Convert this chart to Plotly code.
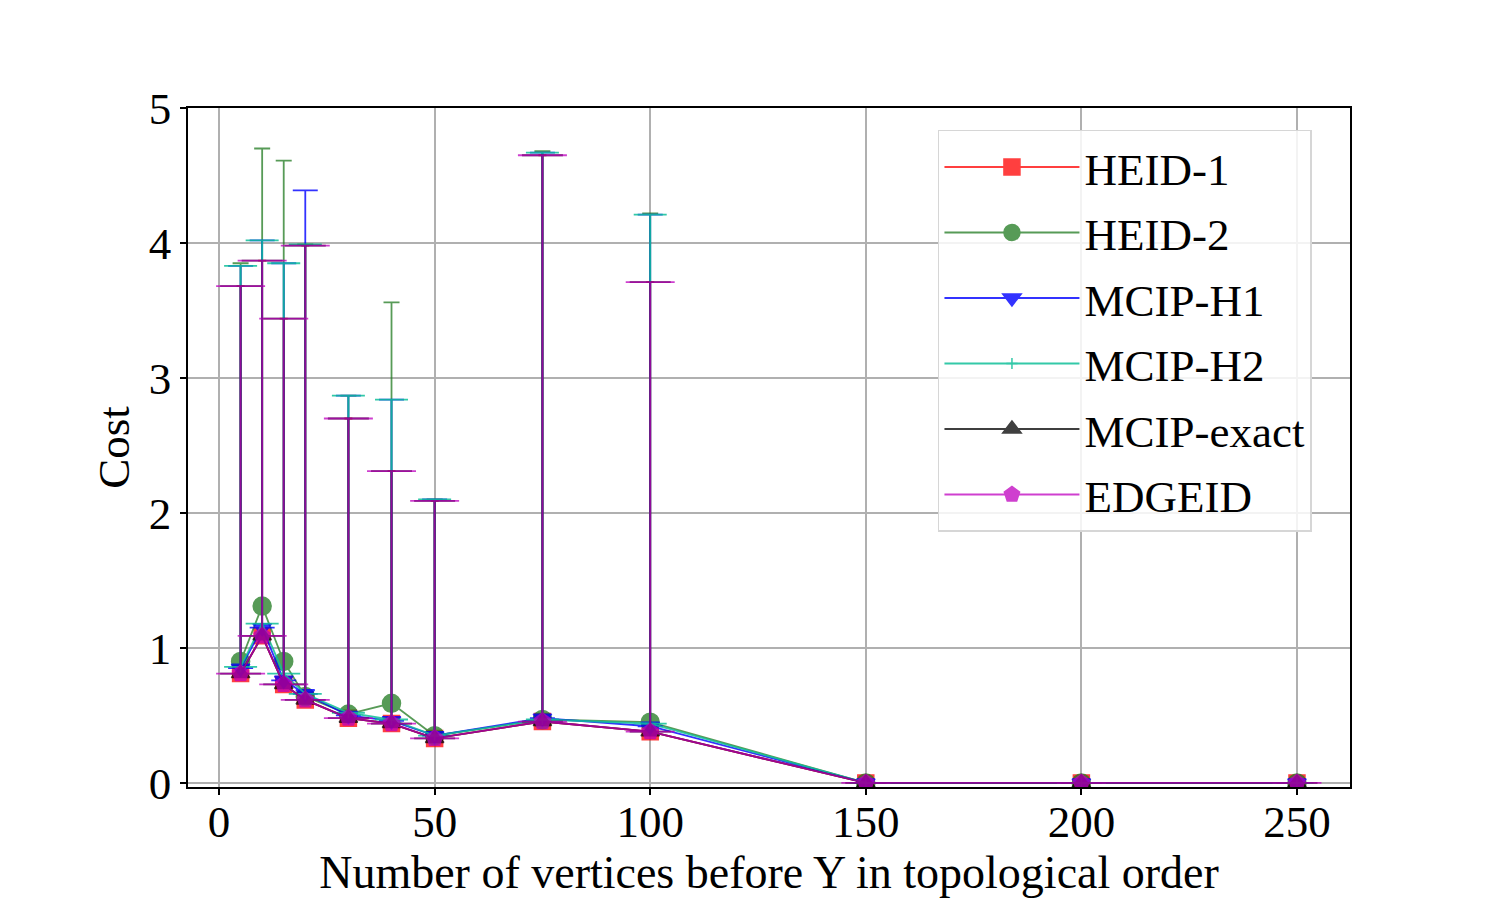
## librerias
import plotly.graph_objects as go

## datos
vertices = [5, 10, 15, 20, 30, 40, 50, 75, 100, 150, 200, 250]

heid1_cost = [0.81, 1.09, 0.73, 0.615, 0.48, 0.44, 0.33, 0.455, 0.38, 0, 0, 0]
heid1_err = [2.87, 2.78, 2.71, 3.365, 2.22, 1.87, 1.76, 4.195, 3.33, 0, 0, 0]

heid2_cost = [0.90, 1.31, 0.90, 0.64, 0.51, 0.59, 0.35, 0.47, 0.45, 0, 0, 0]
heid2_err = [2.95, 3.39, 3.71, 3.35, 2.36, 2.97, 1.75, 4.21, 3.77, 0, 0, 0]

mcip_h1_cost = [0.85, 1.15, 0.76, 0.66, 0.50, 0.46, 0.35, 0.48, 0.42, 0, 0, 0]
mcip_h1_err = [2.98, 2.87, 3.09, 3.73, 2.37, 2.38, 1.75, 4.19, 3.79, 0, 0, 0]

mcip_h2_cost = [0.86, 1.18, 0.81, 0.66, 0.52, 0.47, 0.35, 0.47, 0.44, 0, 0, 0]
mcip_h2_err = [2.97, 2.84, 3.04, 3.33, 2.35, 2.37, 1.75, 4.20, 3.77, 0, 0, 0]

exact_cost = [0.81, 1.09, 0.73, 0.615, 0.48, 0.44, 0.33, 0.455, 0.38, 0, 0, 0]
exact_err = [2.87, 2.78, 2.71, 3.365, 2.22, 1.87, 1.76, 4.195, 3.33, 0, 0, 0]

edgeid_cost = [0.81, 1.09, 0.73, 0.615, 0.48, 0.44, 0.33, 0.455, 0.38, 0, 0, 0]
edgeid_err = [2.87, 2.78, 2.71, 3.365, 2.22, 1.87, 1.76, 4.195, 3.33, 0, 0, 0]

err_abajo = [0, 0, 0, 0, 0, 0, 0, 0, 0, 0, 0, 0]

x_ticks = [0, 50, 100, 150, 200, 250]
y_ticks = [0, 1, 2, 3, 4, 5]

fuente = "Liberation Serif, Times New Roman, serif"

## series: nombre, valores, error, color, simbolo, tamaño, ancho cap, opacidad
series = [
    ("HEID-1", heid1_cost, heid1_err, "#ff0000", "square", 16, 4, 0.75),
    ("HEID-2", heid2_cost, heid2_err, "#1f7a1f", "circle", 18, 8, 0.75),
    ("MCIP-H1", mcip_h1_cost, mcip_h1_err, "#0000ff", "triangle-down", 16, 12.5, 0.8),
    ("MCIP-H2", mcip_h2_cost, mcip_h2_err, "#10c09a", "cross-thin", 8, 16.5, 0.85),
    ("MCIP-exact", exact_cost, exact_err, "#000000", "triangle-up", 16, 20.5, 0.75),
    ("EDGEID", edgeid_cost, edgeid_err, "#bf00bf", "pentagon", 17, 24.5, 0.75),
]

fig = go.Figure()
for nombre, costo, err, col, simb, tam, capw, alpha in series:
    fig.add_trace(go.Scatter(
        x=vertices, y=costo, name=nombre, mode="lines+markers",
        legendgroup=nombre, opacity=alpha,
        line=dict(color=col, width=1.8),
        marker=dict(symbol=simb, size=tam, color=col,
                    line=dict(color=col, width=1.5)),
        error_y=dict(type="data", symmetric=False, array=err, arrayminus=err_abajo,
                     color=col, thickness=1.8, width=capw),
    ))

# el body de la pagina agrega 8px, se descuentan del margen
fig.update_layout(
    width=1500, height=900,
    paper_bgcolor="white", plot_bgcolor="white",
    margin=dict(l=180, r=158, t=100, b=121),
    font=dict(family=fuente, size=45, color="black"),
    showlegend=True,
    legend=dict(x=0.6454, y=0.968, xanchor="left", yanchor="top",
                bgcolor="rgba(255,255,255,0.85)", bordercolor="#d6d6d6", borderwidth=1.5,
                font=dict(family=fuente, size=45), tracegroupgap=4,
                itemwidth=135),
)
fig.update_xaxes(
    range=[-7.2, 262.3], tickvals=x_ticks, tickfont=dict(family=fuente, size=45),
    ticklabelstandoff=-12,
    title=dict(text="Number of vertices before Y in topological order",
               font=dict(family=fuente, size=46), standoff=0),
    showgrid=True, gridcolor="#b0b0b0", gridwidth=1.5,
    showline=True, linecolor="black", linewidth=1.5, mirror=True,
    ticks="outside", ticklen=6, tickwidth=1.5, tickcolor="black", zeroline=False,
)
fig.update_yaxes(
    range=[-0.03, 5], tickvals=y_ticks, tickfont=dict(family=fuente, size=45),
    ticklabelstandoff=0,
    title=dict(text="Cost", font=dict(family=fuente, size=45), standoff=5),
    showgrid=True, gridcolor="#b0b0b0", gridwidth=1.5,
    showline=True, linecolor="black", linewidth=1.5, mirror=True,
    ticks="outside", ticklen=6, tickwidth=1.5, tickcolor="black", zeroline=False,
)

fig.write_html("out.html")
